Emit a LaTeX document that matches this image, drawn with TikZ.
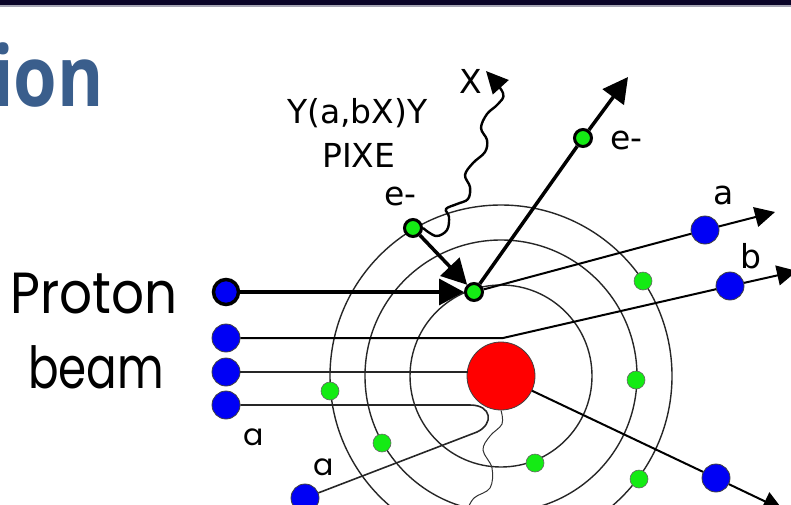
\documentclass[tikz,border=0pt]{standalone}
\usepackage{fontspec}
\setmainfont{DejaVu Sans}
\newfontfamily\beamfont{Poppins}
\newfontfamily\headfont{Open Sans}
\usetikzlibrary{arrows.meta}

\definecolor{pblue}{RGB}{0,0,245}
\definecolor{egreen}{RGB}{20,235,20}
\definecolor{nred}{RGB}{255,0,0}
\definecolor{headblue}{RGB}{58,94,140}
\definecolor{barnavy}{RGB}{10,4,40}
\definecolor{bargrey}{RGB}{165,165,180}

\tikzset{
  proton/.style={circle, fill=pblue, draw=black!75, line width=0.8pt,
    minimum size=28pt, inner sep=0pt},
  incoming/.style={proton, draw=black, line width=3.5pt, minimum size=25pt},
  electron/.style={circle, fill=egreen, draw=black!60, line width=0.6pt,
    minimum size=18pt, inner sep=0pt},
  hotelectron/.style={circle, fill=egreen, draw=black, line width=3pt,
    minimum size=17pt, inner sep=0pt},
  nucleus/.style={circle, fill=nred, draw=black!75, line width=0.8pt,
    minimum size=68pt, inner sep=0pt},
  shell/.style={draw=black!85, line width=1.4pt},
  bigarrow/.style={line width=3.5pt, -{Triangle[length=25pt,width=26pt]}},
  outarrow/.style={line width=2pt, -{Triangle[length=20pt,width=20pt]}},
  beamline/.style={line width=1.6pt, draw=black!85},
  wave/.style={line width=1pt, draw=black!80},
  lbl/.style={font=\fontsize{33}{33}\selectfont, inner sep=0pt, anchor=base west},
  beamlbl/.style={font=\beamfont\fontsize{30}{30}\selectfont, inner sep=0pt, anchor=base west},
  bigword/.style={font=\beamfont\fontsize{58}{58}\selectfont, inner sep=0pt, anchor=base west},
}

\begin{document}
\begin{tikzpicture}[x=1pt, y=-1pt]
\useasboundingbox (0,0) rectangle (791,504);
\clip (0,0) rectangle (791,504);

% header bar and title fragment
\fill[barnavy] (0,0) rectangle (791,4.5);
\fill[bargrey] (0,4.5) rectangle (791,6.5);
\node[anchor=base east, inner sep=0pt, text=headblue,
  font=\headfont\bfseries\fontsize{84}{84}\selectfont] (title) at (104,106)
  {\scalebox{0.84}[1]{ion}};

% atom: nucleus and shells
\node[nucleus] (N) at (501,376) {};
\draw[shell] (N.center) circle[radius=91pt];
\draw[shell] (N.center) circle[radius=136pt];
\draw[shell] (N.center) circle[radius=171pt];

% bound electrons
\node[electron] (e1) at (535,463) {};
\node[electron] (e2) at (382,443) {};
\node[electron] (e3) at (636,380) {};
\node[electron] (e4) at (330,391) {};
\node[electron] (e5) at (643,281) {};
\node[electron] (e6) at (639,479) {};
\node[hotelectron] (ek) at (474,292) {};
\node[hotelectron] (eo) at (413,228) {};
\node[hotelectron] (ef) at (583,138) {};

% beam protons
\node[incoming] (p1) at (226,292) {};
\node[proton] (p2) at (226,338) {};
\node[proton] (p3) at (226,372) {};
\node[proton] (p4) at (226,405) {};

% scattered protons
\node[proton] (sa) at (705,230) {};
\node[proton] (sb) at (730,286) {};
\node[proton] (sc) at (716,478) {};
\node[proton] (sr) at (305,498) {};

\coordinate (hit2) at (503,338);
\coordinate (hit3) at (468,372);
\coordinate (turnA) at (470,405);
\coordinate (turnB) at (477,432);
\coordinate (tipA) at (775,212);
\coordinate (tipB) at (797,271);
\coordinate (tipC) at (783,510);
\coordinate (tipE) at (628,77);
\coordinate (tipX) at (486,71);

% trajectories
\draw[bigarrow] (p1) -- (ek);
\draw[bigarrow] (eo) -- (ek);
\draw[line width=3.5pt] (ek) -- (ef);
\draw[bigarrow] (ef) -- (tipE);
\draw[line width=2pt] (ek) -- (sa);
\draw[outarrow] (sa) -- (tipA);
\draw[line width=2pt] (p2) -- (hit2) -- (sb);
\draw[outarrow] (sb) -- (tipB);
\draw[beamline] (p3) -- (hit3);
\draw[beamline] (p4) -- (turnA) .. controls (492,405) and (494,424) .. (turnB) -- (sr);
\draw[line width=2pt] (N) -- (sc);
\draw[outarrow] (sc) -- (tipC);

% emitted X-ray
\draw[line width=2.4pt, -{Triangle[length=22pt,width=21pt]}]
  plot[smooth, tension=0.6] coordinates {(eo.east) (436,236) (447,230) (449,217)
  (446,209) (457,204) (468,199) (470,187) (465,175) (473,163) (485,152)
  (487,140) (481,128) (487,114) (498,104) (503,93) (tipX)};

% gamma from the nucleus
\draw[wave] plot[smooth, tension=0.6] coordinates {(N.south) (502,424) (490,436)
  (483,450) (492,468) (490,488) (474,498) (466,512)};

% labels
\node[lbl] (lreac) at (287,123) {Y(a,bX)Y};
\node[lbl] (lpixe) at (322,167) {PIXE};
\node[lbl] (leo) at (384,205) {e-};
\node[lbl] (lx) at (459,93) {X};
\node[lbl] (lef) at (610,149) {e-};
\node[lbl] (lsa) at (713,204) {a};
\node[lbl] (lsb) at (740,268) {b};
\node[beamlbl] (lp4) at (243,445) {a};
\node[beamlbl] (lsr) at (313,475) {a};
\node[bigword] (lproton) at (10,313) {\scalebox{0.89}[1]{Proton}};
\node[bigword] (lbeam) at (28,388) {\scalebox{0.78}[1]{beam}};
\end{tikzpicture}
\end{document}
